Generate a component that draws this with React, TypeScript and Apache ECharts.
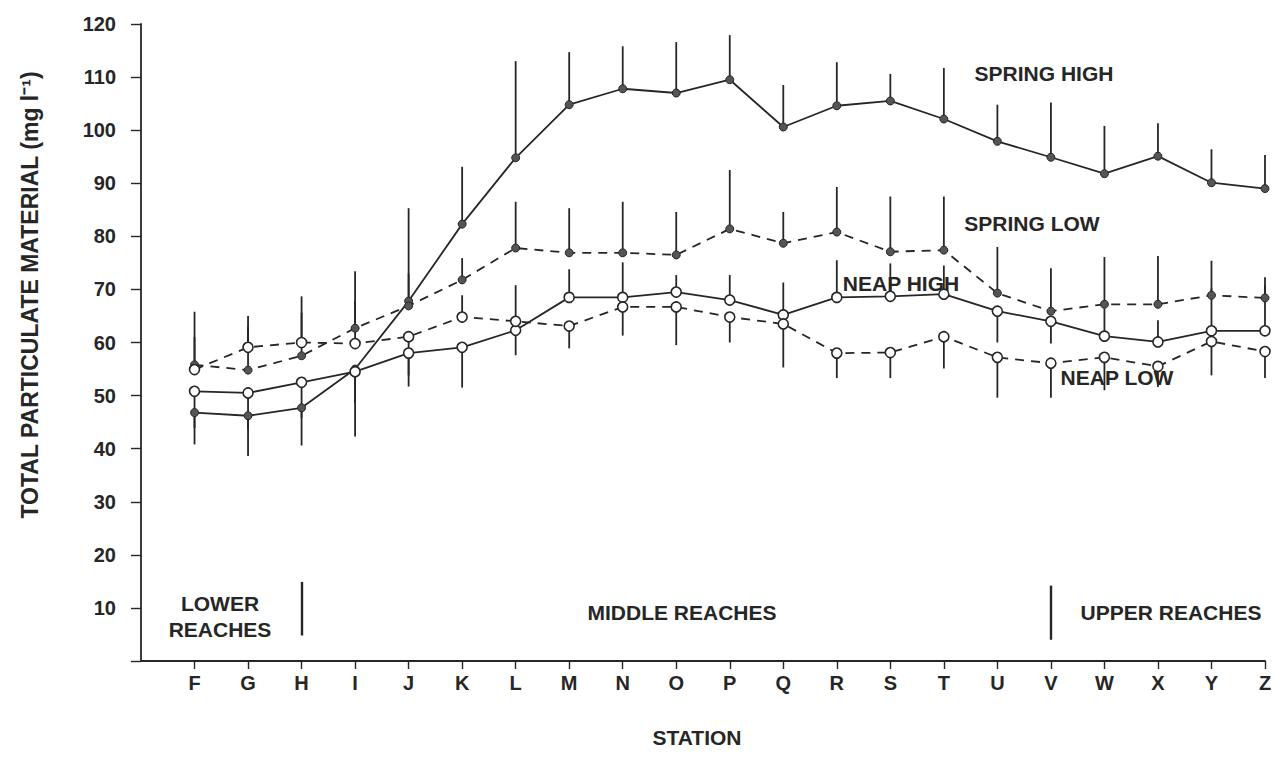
import React, { useEffect, useRef } from "react";
import * as echarts from "echarts";

const stations = ["F","G","H","I","J","K","L","M","N","O","P","Q","R","S","T","U","V","W","X","Y","Z"];
const categories = ["", ...stations];
const yTicks = [0, 10, 20, 30, 40, 50, 60, 70, 80, 90, 100, 110, 120];

const springHigh = [46.8, 46.2, 47.7, 55.0, 67.8, 82.3, 94.8, 104.8, 107.8, 107.0, 109.5, 100.6, 104.6, 105.5, 102.1, 97.9, 94.9, 91.8, 95.1, 90.1, 89.0];
const springHighBar = [40.8, 38.6, 40.6, 42.3, 85.3, 93.1, 113.0, 114.7, 115.8, 116.6, 117.9, 108.5, 112.8, 110.6, 111.7, 104.8, 105.2, 100.8, 101.3, 96.4, 95.3];

const springLow = [55.8, 54.8, 57.5, 62.7, 66.9, 71.8, 77.8, 76.9, 76.9, 76.5, 81.4, 78.7, 80.8, 77.1, 77.4, 69.3, 65.9, 67.2, 67.2, 68.9, 68.4];
const springLowBar = [65.8, 63.0, 65.6, 73.4, 73.0, 75.9, 86.5, 85.3, 86.5, 84.6, 92.5, 84.6, 89.3, 87.5, 87.5, 78.0, 74.0, 76.1, 76.3, 75.4, 72.3];

const neapHigh = [50.8, 50.5, 52.5, 54.5, 58.0, 59.1, 62.3, 68.5, 68.5, 69.5, 68.0, 65.2, 68.5, 68.7, 69.1, 65.9, 64.0, 61.2, 60.1, 62.2, 62.2];
const neapHighBar = [43.9, 43.7, 45.8, 48.6, 51.7, 51.5, 57.6, 73.8, 75.1, 72.7, 72.7, 71.3, 75.5, 74.9, 74.5, 60.0, 59.8, 66.4, 64.2, 70.2, 70.8];

const neapLow = [54.9, 59.1, 60.0, 59.8, 61.1, 64.8, 64.0, 63.1, 66.7, 66.7, 64.8, 63.5, 58.0, 58.1, 61.1, 57.2, 56.1, 57.2, 55.5, 60.2, 58.3];
const neapLowBar = [61.0, 65.0, 68.7, 67.8, 53.8, 68.9, 70.8, 58.9, 61.3, 59.5, 60.0, 55.3, 53.3, 53.3, 55.1, 49.6, 49.6, 51.0, 51.6, 53.8, 53.3];

const reachDividers = [
  { station: "H", from: 4.8, to: 14.9 },
  { station: "V", from: 4.0, to: 14.2 },
];

const INK = "#262626";
const FONT = "'Liberation Sans', Arial, Helvetica, sans-serif";
const FS = 21;

function lineSeries(name: string, values: number[], filled: boolean, dashed: boolean) {
  return {
    name,
    type: "line",
    z: 5,
    data: values.map((v, i) => [i + 1, v]),
    symbol: "circle",
    symbolSize: filled ? 8 : 10,
    showSymbol: true,
    lineStyle: { color: INK, width: 1.8, type: dashed ? [9, 7] : "solid" },
    itemStyle: filled
      ? { color: "#555", borderColor: INK, borderWidth: 1 }
      : { color: "#fff", borderColor: INK, borderWidth: 1.6 },
  };
}

function barSeries(name: string, values: number[], ends: number[]) {
  return {
    name: name + " bars",
    type: "custom",
    z: 3,
    data: values.map((v, i) => [i + 1, v, ends[i]]),
    renderItem: (params: any, api: any) => {
      const p1 = api.coord([api.value(0), api.value(1)]);
      const p2 = api.coord([api.value(0), api.value(2)]);
      return {
        type: "line",
        shape: { x1: p1[0], y1: p1[1], x2: p2[0], y2: p2[1] },
        style: { stroke: INK, lineWidth: 1.8 },
      };
    },
  };
}

export default function App() {
  const ref = useRef<HTMLDivElement>(null);
  useEffect(() => {
    if (!ref.current) return;
    const chart = echarts.init(ref.current, null, { renderer: "svg" });
    const txt = (text: string, x: number, y: number, size: number = FS) => ({
      type: "text",
      x,
      y,
      style: {
        text,
        fill: INK,
        font: `bold ${size}px ${FONT}`,
        textAlign: "center",
        textVerticalAlign: "middle",
      },
    });
    const option: any = {
      animation: false,
      backgroundColor: "#fff",
      grid: { left: 141, right: 22, top: 24, bottom: 114, containLabel: false },
      xAxis: {
        type: "category",
        data: categories,
        boundaryGap: false,
        axisLine: { lineStyle: { color: INK, width: 1.8 } },
        axisTick: {
          length: 8,
          lineStyle: { color: INK, width: 1.4 },
          interval: (index: number) => index !== 0,
        },
        axisLabel: {
          interval: 0,
          margin: 12,
          color: INK,
          fontFamily: FONT,
          fontWeight: "bold",
          fontSize: FS - 1,
        },
        splitLine: { show: false },
      },
      yAxis: {
        type: "value",
        min: yTicks[0],
        max: yTicks[yTicks.length - 1],
        interval: 10,
        axisLine: { show: true, lineStyle: { color: INK, width: 1.8 } },
        axisTick: { show: true, length: 10, lineStyle: { color: INK, width: 1.4 } },
        axisLabel: {
          margin: 25,
          color: INK,
          fontFamily: FONT,
          fontWeight: "bold",
          fontSize: FS - 1,
          padding: [0, 0, 12, 0],
          formatter: (v: number) => (v === 0 ? "" : String(v)),
        },
        splitLine: { show: false },
      },
      series: [
        barSeries("Spring high", springHigh, springHighBar),
        barSeries("Spring low", springLow, springLowBar),
        barSeries("Neap high", neapHigh, neapHighBar),
        barSeries("Neap low", neapLow, neapLowBar),
        lineSeries("Spring high", springHigh, true, false),
        lineSeries("Spring low", springLow, true, true),
        lineSeries("Neap high", neapHigh, false, false),
        lineSeries("Neap low", neapLow, false, true),
        {
          name: "dividers",
          type: "line",
          data: [],
          markLine: {
            silent: true,
            symbol: "none",
            label: { show: false },
            lineStyle: { color: INK, width: 2.4, type: "solid" },
            data: reachDividers.map((d) => [
              { coord: [categories.indexOf(d.station), d.from] },
              { coord: [categories.indexOf(d.station), d.to] },
            ]),
          },
        },
      ],
      graphic: [
        txt("SPRING HIGH", 1044, 73),
        txt("SPRING LOW", 1032, 223),
        txt("NEAP HIGH", 901, 283),
        txt("NEAP LOW", 1117, 377),
        txt("LOWER", 220, 603),
        txt("REACHES", 220, 629),
        txt("MIDDLE REACHES", 682, 612),
        txt("UPPER REACHES", 1171, 612),
        txt("STATION", 697, 737),
        {
          type: "text",
          x: 30,
          y: 295,
          rotation: Math.PI / 2,
          style: {
            text: "TOTAL PARTICULATE MATERIAL (mg l\u207B\u00B9)",
            fill: INK,
            font: `bold 23px ${FONT}`,
            textAlign: "center",
            textVerticalAlign: "middle",
          },
        },
      ],
    };
    chart.setOption(option);
    return () => chart.dispose();
  }, []);
  return (
    <div
      ref={ref}
      style={{ position: "fixed", left: 0, top: 0, width: 1287, height: 775, background: "#fff" }}
    />
  );
}
